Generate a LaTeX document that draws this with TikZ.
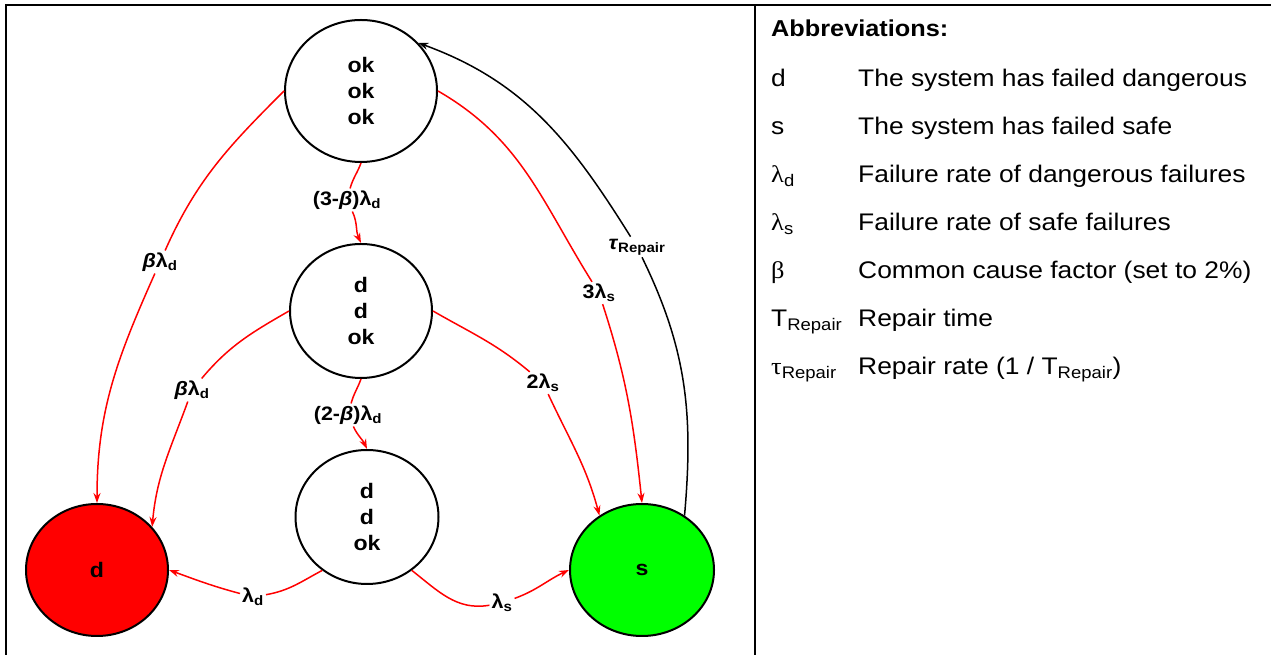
\documentclass[tikz,border=0pt]{standalone}
\usepackage{fontspec}
\setmainfont{Liberation Sans}[FakeStretch=1.1]
\newfontfamily\serifgr{Liberation Serif}[FakeStretch=1.1]
\usetikzlibrary{shapes.geometric,arrows.meta}
\definecolor{dred}{RGB}{255,0,0}
\definecolor{sgreen}{RGB}{0,255,0}
\newcommand\grk[1]{{\serifgr #1}}
\begin{document}
\begin{tikzpicture}[x=1pt,y=1pt,
  statenode/.style={ellipse,draw=black,line width=2pt,inner sep=0pt,align=center,
    font=\bfseries\fontsize{21}{26}\selectfont},
  lab/.style={inner sep=2pt,font=\bfseries\fontsize{19.5}{24}\selectfont},
  redline/.style={draw=dred,line width=1.5pt},
  tip/.style={-{Stealth[length=10pt,width=7pt]}},
  tabsym/.style={anchor=base west,inner sep=0pt,font=\fontsize{24}{28}\selectfont},
  tabtxt/.style={anchor=base west,inner sep=0pt,font=\fontsize{24}{28}\selectfont},
  tabhead/.style={anchor=base west,inner sep=0pt,font=\bfseries\fontsize{23}{28}\selectfont},
  frameline/.style={line width=2.5pt,line cap=rect}]
\useasboundingbox (0,0) rectangle (1271,655);
% frame
\coordinate (fTL) at (6,650);
\coordinate (fBL) at (6,0);
\coordinate (fTR) at (1271,650);
\coordinate (dT) at (755,650);
\coordinate (dB) at (755,0);
\draw[frameline] (fBL) -- (fTL) -- (fTR);
\draw[frameline] (dT) -- (dB);
% states
\node[statenode,minimum width=152pt,minimum height=142pt] (top) at (361,564) {ok\\ok\\ok};
\node[statenode,minimum width=142pt,minimum height=134pt] (mid) at (361,344) {d\\d\\ok};
\node[statenode,minimum width=143pt,minimum height=134pt] (bot) at (367,138) {d\\d\\ok};
\node[statenode,fill=dred,minimum width=142pt,minimum height=132pt] (D) at (97,85) {d};
\node[statenode,fill=sgreen,minimum width=144pt,minimum height=132pt] (S) at (642,85) {s};
% labels
\node[lab] (l1) at (160,393) {\textit{β}λ\textsubscript{d}};
\node[lab] (l2) at (347,455) {(3-\textit{β})λ\textsubscript{d}};
\node[lab] (l3) at (599,362) {3λ\textsubscript{s}};
\node[lab] (l4) at (637,408) {\textit{τ}\textsubscript{Repair}};
\node[lab] (l5) at (192,265) {\textit{β}λ\textsubscript{d}};
\node[lab] (l6) at (543,272) {2λ\textsubscript{s}};
\node[lab] (l7) at (348,240) {(2-\textit{β})λ\textsubscript{d}};
\node[lab] (l8) at (253,58) {λ\textsubscript{d}};
\node[lab] (l9) at (502,52) {λ\textsubscript{s}};
% connectors
\draw[redline] (top.180) to[out=225,in=66] (l1);
\draw[redline,tip] (l1) to[out=246,in=90] (D.north);
\draw[redline] (top.south) to[out=250,in=75] (l2);
\draw[redline,tip] (l2) to[out=295,in=115] (mid.north);
\draw[redline] (top.east) to[out=330,in=122] (l3);
\draw[redline,tip] (l3) to[out=288,in=96] (S.north);
\draw[line width=1.5pt] (S.52) to[out=85,in=-64] (l4);
\draw[line width=1.5pt,tip] (l4) to[out=122,in=-20] (top.40);
\draw[redline] (mid.west) to[out=210,in=50] (l5);
\draw[redline,tip] (l5) to[out=250,in=85] (D.38);
\draw[redline] (mid.east) to[out=330,in=140] (l6);
\draw[redline,tip] (l6) to[out=295,in=105] (S.128);
\draw[redline] (mid.south) to[out=250,in=75] (l7);
\draw[redline,tip] (l7) to[out=295,in=115] (bot.north);
\draw[redline] (bot.230) to[out=208,in=10] (l8);
\draw[redline,tip] (l8) to[out=165,in=-20] (D.east);
\draw[redline] (bot.310) to[out=-38,in=190] (l9);
\draw[redline,tip] (l9) to[out=20,in=205] (S.west);
% table
\node[tabhead] (th) at (771,618) {Abbreviations:};
\node[tabsym] (s1) at (771,568) {d};
\node[tabtxt] (t1) at (858,568) {The system has failed dangerous};
\node[tabsym] (s2) at (771,520) {s};
\node[tabtxt] (t2) at (858,520) {The system has failed safe};
\node[tabsym] (s3) at (771,472) {\grk{λ}\textsubscript{d}};
\node[tabtxt] (t3) at (858,472) {Failure rate of dangerous failures};
\node[tabsym] (s4) at (771,424) {\grk{λ}\textsubscript{s}};
\node[tabtxt] (t4) at (858,424) {Failure rate of safe failures};
\node[tabsym] (s5) at (771,376) {\grk{β}};
\node[tabtxt] (t5) at (858,376) {Common cause factor (set to 2\%)};
\node[tabsym] (s6) at (771,328) {T\textsubscript{Repair}};
\node[tabtxt] (t6) at (858,328) {Repair time};
\node[tabsym] (s7) at (771,280) {\grk{τ}\textsubscript{Repair}};
\node[tabtxt] (t7) at (858,280) {Repair rate (1 / T\textsubscript{Repair})};
\end{tikzpicture}
\end{document}
